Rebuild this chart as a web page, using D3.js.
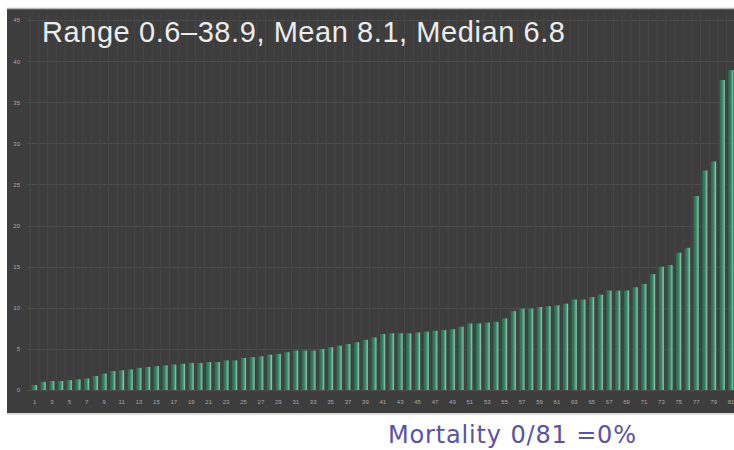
<!DOCTYPE html>
<html>
<head>
<meta charset="utf-8">
<script src="https://cdn.jsdelivr.net/npm/d3@7/dist/d3.min.js"></script>
<style>
  html, body { margin: 0; padding: 0; background: #ffffff; }
  svg { display: block; }
</style>
</head>
<body>
<svg id="chart" width="734" height="450"></svg>
<script>
// Patients 1..81, values sorted ascending
const patients = d3.range(1, 82);
const values = [
  0.6, 1.0, 1.1, 1.1, 1.2, 1.3, 1.4, 1.7, 2.0, 2.3,
  2.4, 2.5, 2.7, 2.8, 2.9, 3.0, 3.1, 3.2, 3.3, 3.3,
  3.4, 3.4, 3.6, 3.6, 3.9, 4.0, 4.1, 4.3, 4.4, 4.6,
  4.8, 4.8, 4.8, 5.0, 5.2, 5.4, 5.6, 5.8, 6.1, 6.4,
  6.8, 6.9, 6.9, 6.9, 7.0, 7.1, 7.2, 7.3, 7.4, 7.7,
  8.1, 8.1, 8.2, 8.3, 8.7, 9.6, 9.9, 9.9, 10.1, 10.2,
  10.3, 10.5, 11.0, 11.0, 11.3, 11.6, 12.1, 12.1, 12.1, 12.5,
  12.9, 14.1, 15.0, 15.2, 16.7, 17.3, 23.6, 26.7, 27.8, 37.7,
  38.9
];
const yTicks = [0, 5, 10, 15, 20, 25, 30, 35, 40, 45];
const xTickLabels = patients.filter(d => d % 2 === 1);
const titleText = "Range 0.6\u201338.9, Mean 8.1, Median 6.8";
const footText = "Mortality 0/81 =0%";

const svg = d3.select("#chart");

// dark plotting panel
const panel = { x: 7, y: 9, w: 727, h: 404 };
svg.append("rect")
  .attr("x", panel.x).attr("y", panel.y)
  .attr("width", panel.w).attr("height", panel.h)
  .attr("fill", "#3d3d3d");
svg.append("line")
  .attr("x1", panel.x).attr("x2", panel.x + panel.w)
  .attr("y1", panel.y - 0.5).attr("y2", panel.y - 0.5)
  .attr("stroke", "#b8b8b8").attr("stroke-width", 1.5);
svg.append("line")
  .attr("x1", panel.x).attr("x2", panel.x + panel.w)
  .attr("y1", panel.y + panel.h + 1).attr("y2", panel.y + panel.h + 1)
  .attr("stroke", "#dcdcdc").attr("stroke-width", 2);

const x = d3.scaleBand()
  .domain(patients)
  .range([30.2, 735.4])
  .paddingInner(0.38)
  .paddingOuter(0.19);

const y = d3.scaleLinear()
  .domain([0, 45])
  .range([390, 20]);

// bar shading: dark teal body with a pale highlight on the right
const defs = svg.append("defs");
const grad = defs.append("linearGradient")
  .attr("id", "barShade")
  .attr("x1", "0%").attr("x2", "100%")
  .attr("y1", "0%").attr("y2", "0%");
[
  ["0%", "#276f52"],
  ["45%", "#318262"],
  ["70%", "#5fa286"],
  ["85%", "#8fbea9"],
  ["100%", "#548f77"]
].forEach(([o, c]) => grad.append("stop").attr("offset", o).attr("stop-color", c));

// grid
const grid = svg.append("g");
grid.selectAll("line.h")
  .data(yTicks)
  .join("line")
  .attr("class", "h")
  .attr("x1", 27).attr("x2", panel.x + panel.w)
  .attr("y1", d => Math.round(y(d)) + 0.5)
  .attr("y2", d => Math.round(y(d)) + 0.5)
  .attr("stroke", "#4c4c4c").attr("stroke-width", 1);
grid.selectAll("line.v")
  .data(patients)
  .join("line")
  .attr("class", "v")
  .attr("x1", d => x(d) - x.step() * x.paddingInner() / 2)
  .attr("x2", d => x(d) - x.step() * x.paddingInner() / 2)
  .attr("y1", 14).attr("y2", 392)
  .attr("stroke", "#474747").attr("stroke-width", 1);

// bars
svg.append("g")
  .selectAll("rect")
  .data(values)
  .join("rect")
  .attr("x", (d, i) => x(patients[i]))
  .attr("width", x.bandwidth())
  .attr("y", d => y(d))
  .attr("height", d => y(0) - y(d))
  .attr("fill", "url(#barShade)");

// y axis labels
const yAxis = d3.axisLeft(y).tickValues(yTicks).tickSize(0).tickPadding(0);
const yg = svg.append("g")
  .attr("transform", "translate(20,0)")
  .call(yAxis);
yg.select(".domain").remove();
yg.selectAll("text")
  .attr("fill", "#a8a8a8")
  .attr("font-family", "Liberation Sans, Arial, sans-serif")
  .attr("font-size", 6);

// x axis labels (odd patient numbers)
const xAxis = d3.axisBottom(x).tickValues(xTickLabels).tickSize(0).tickPadding(0);
const xg = svg.append("g")
  .attr("transform", "translate(0,400)")
  .call(xAxis);
xg.select(".domain").remove();
xg.selectAll("text")
  .attr("fill", "#a8a8a8")
  .attr("font-family", "Liberation Sans, Arial, sans-serif")
  .attr("font-size", 6);

// summary statistics
svg.append("text")
  .attr("x", 42).attr("y", 42)
  .attr("font-family", "Liberation Sans, Arial, Helvetica, sans-serif")
  .attr("font-size", 29)
  .attr("fill", "#ececec")
  .attr("textLength", 523)
  .attr("lengthAdjust", "spacing")
  .text(titleText);

svg.append("text")
  .attr("x", 388).attr("y", 443)
  .attr("font-family", "DejaVu Sans, Verdana, sans-serif")
  .attr("font-size", 24)
  .attr("fill", "#5a52a6")
  .attr("textLength", 248)
  .attr("lengthAdjust", "spacing")
  .text(footText);
</script>
</body>
</html>
